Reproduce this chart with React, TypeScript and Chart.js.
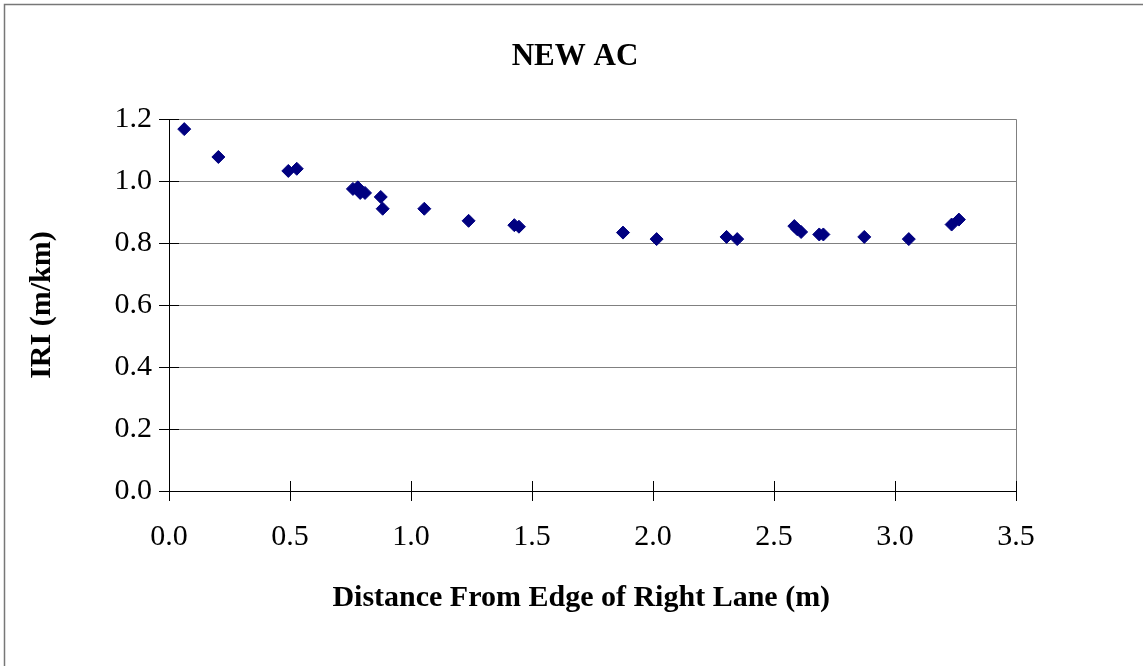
import React, { useEffect, useRef } from "react";
import { Chart, registerables } from "chart.js";

Chart.register(...registerables);

const chartTitle = "NEW AC";
const xAxisTitle = "Distance From Edge of Right Lane (m)";
const yAxisTitle = "IRI (m/km)";

const distance = [
  0.063, 0.204, 0.493, 0.528, 0.76, 0.78, 0.79, 0.81, 0.875, 0.883, 1.055,
  1.238, 1.427, 1.446, 1.876, 2.015, 2.304, 2.348, 2.584, 2.596, 2.612, 2.687,
  2.704, 2.873, 3.057, 3.234, 3.264,
];
const iri = [
  1.168, 1.078, 1.033, 1.04, 0.975, 0.98, 0.962, 0.962, 0.949, 0.911, 0.911,
  0.872, 0.858, 0.853, 0.834, 0.813, 0.82, 0.813, 0.855, 0.845, 0.836, 0.828,
  0.828, 0.82, 0.813, 0.86, 0.876,
];

const xTicks = [0, 0.5, 1.0, 1.5, 2.0, 2.5, 3.0, 3.5];
const yTicks = [0, 0.2, 0.4, 0.6, 0.8, 1.0, 1.2];

const FONT = "'Liberation Serif', 'Times New Roman', serif";

const frameAndTicks = {
  id: "frameAndTicks",
  beforeDraw(chart: any) {
    const ctx = chart.ctx;
    ctx.save();
    ctx.fillStyle = "#ffffff";
    ctx.fillRect(0, 0, chart.width, chart.height);
    ctx.strokeStyle = "#777777";
    ctx.lineWidth = 1.5;
    ctx.strokeRect(4.5, 4.5, chart.width + 10, chart.height + 10);
    ctx.restore();
  },
  afterDraw(chart: any) {
    const ctx = chart.ctx;
    const { left, right, top, bottom } = chart.chartArea;
    const xs = chart.scales.x;
    const ys = chart.scales.y;
    ctx.save();
    ctx.lineWidth = 1;
    ctx.strokeStyle = "#808080";
    ctx.beginPath();
    ctx.moveTo(Math.round(right) + 0.5, top);
    ctx.lineTo(Math.round(right) + 0.5, bottom);
    ctx.stroke();
    ctx.strokeStyle = "#000000";
    ctx.beginPath();
    xTicks.forEach((v) => {
      const px = Math.round(xs.getPixelForValue(v)) + 0.5;
      ctx.moveTo(px, bottom - 10);
      ctx.lineTo(px, bottom + 10);
    });
    yTicks.forEach((v) => {
      const py = Math.round(ys.getPixelForValue(v)) + 0.5;
      ctx.moveTo(left - 10, py);
      ctx.lineTo(left + 10, py);
    });
    ctx.stroke();
    ctx.restore();
  },
};

export default function App() {
  const ref = useRef<HTMLCanvasElement | null>(null);
  useEffect(() => {
    if (!ref.current) return;
    const points = distance.map((d, i) => ({ x: d, y: iri[i] }));
    const chart = new Chart(ref.current, {
      type: "scatter",
      data: {
        datasets: [
          {
            label: "IRI",
            data: points,
            pointStyle: "rectRot",
            pointRadius: 6.5,
            pointBackgroundColor: "#000080",
            pointBorderColor: "#000080",
            pointBorderWidth: 1,
            showLine: false,
          },
        ],
      },
      options: {
        responsive: false,
        animation: false,
        layout: { padding: { left: 7, right: 0, top: 0, bottom: 0 } },
        plugins: {
          legend: { display: false },
          tooltip: { enabled: false },
          title: {
            display: true,
            text: chartTitle,
            color: "#000000",
            font: { family: FONT, size: 31, weight: "bold", lineHeight: 1.2 },
            padding: { top: 38, bottom: 44 },
          },
        },
        scales: {
          x: {
            type: "linear",
            min: 0,
            max: 3.5,
            afterBuildTicks: (s: any) => {
              s.ticks = xTicks.map((v) => ({ value: v }));
            },
            afterFit: (s: any) => {
              s.height = 175;
            },
            ticks: {
              color: "#000000",
              font: { family: FONT, size: 30, lineHeight: 1.2 },
              padding: 28,
              maxRotation: 0,
              callback: (v: any) => Number(v).toFixed(1),
            },
            grid: { display: false, drawTicks: false },
            border: { display: true, color: "#000000", width: 1 },
            title: {
              display: true,
              text: xAxisTitle + "\u00a0\u00a0\u00a0",
              color: "#000000",
              font: { family: FONT, size: 30, weight: "bold", lineHeight: 1.2 },
              padding: { top: 0, bottom: 50 },
            },
          },
          y: {
            type: "linear",
            min: 0,
            max: 1.2,
            afterBuildTicks: (s: any) => {
              s.ticks = yTicks.map((v) => ({ value: v }));
            },
            afterFit: (s: any) => {
              s.width = 162;
            },
            ticks: {
              color: "#000000",
              font: { family: FONT, size: 30, lineHeight: 1.2 },
              padding: 17,
              callback: (v: any) => Number(v).toFixed(1),
            },
            grid: { display: true, color: "#808080", lineWidth: 1, drawTicks: false },
            border: { display: true, color: "#000000", width: 1 },
            title: {
              display: true,
              text: yAxisTitle,
              color: "#000000",
              font: { family: FONT, size: 30, weight: "bold", lineHeight: 1.2 },
              padding: { top: 17, bottom: 0 },
            },
          },
          spacer: {
            type: "linear",
            position: "right",
            display: true,
            min: 0,
            max: 1,
            afterFit: (s: any) => {
              s.width = 127;
            },
            ticks: { display: false },
            grid: { display: false, drawTicks: false },
            border: { display: false },
          },
        },
      },
      plugins: [frameAndTicks],
    });
    return () => chart.destroy();
  }, []);
  return (
    <div style={{ position: "absolute", left: 0, top: 0, width: 1143, height: 666 }}>
      <canvas ref={ref} width={1143} height={666} style={{ width: 1143, height: 666 }} />
    </div>
  );
}
